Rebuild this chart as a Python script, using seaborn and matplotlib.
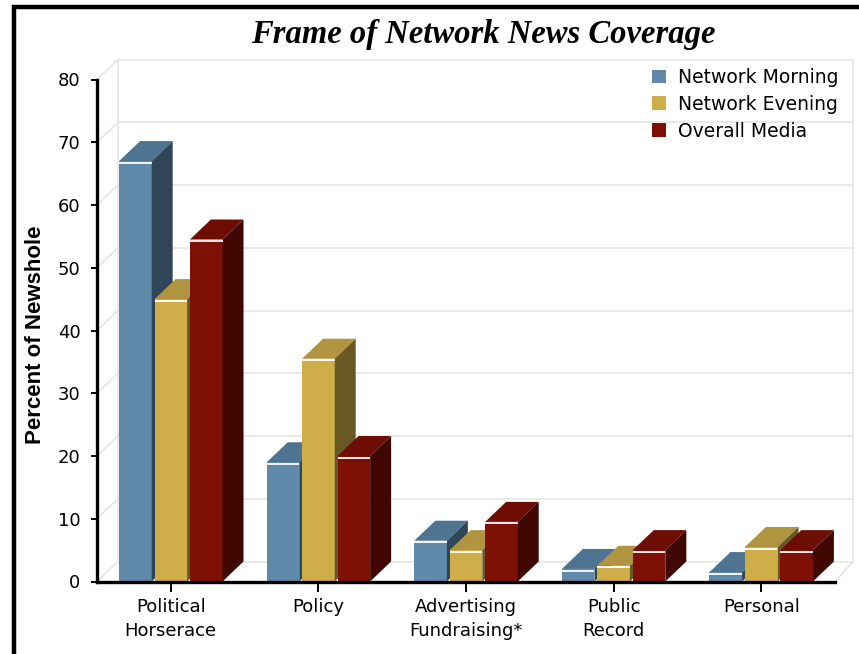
import matplotlib
matplotlib.use("Agg")
import matplotlib.pyplot as plt
import numpy as np
import pandas as pd
import seaborn as sns
from matplotlib.patches import Polygon
from matplotlib.lines import Line2D

# ---- data -------------------------------------------------------------
categories = ["Political\nHorserace", "Policy", "Advertising\nFundraising*",
              "Public\nRecord", "Personal"]
series = ["Network Morning", "Network Evening", "Overall Media"]
network_morning = [67, 19, 6.5, 2, 1.5]
network_evening = [45, 35.5, 5, 2.5, 5.5]
overall_media = [54.5, 20, 9.5, 5, 5]
y_ticks = [0, 10, 20, 30, 40, 50, 60, 70, 80]

# ---- styling ------------------------------------------------------------
front_colors = ["#6089AA", "#CFAE4A", "#7E1006"]
side_colors = ["#2F4657", "#6A5824", "#410803"]
top_colors = ["#4F7491", "#B0943F", "#6E0D04"]
wall_color = "#E4E4E4"

df = pd.DataFrame({
    "Frame": categories * len(series),
    "Outlet": np.repeat(series, len(categories)),
    "Percent": network_morning + network_evening + overall_media,
})

sns.set_theme(style="white")
plt.rcParams["font.family"] = ["DejaVu Sans"]
plt.rcParams["text.color"] = "black"

W, H, DPI = 859, 654, 100
fig = plt.figure(figsize=(W / DPI, H / DPI), dpi=DPI)
fig.patch.set_facecolor("white")

# axes box in pixels (left, right, bottom, top)
AX_L, AX_R, AX_B, AX_T = 97, 835, 581.5, 79.5
ax = fig.add_axes([AX_L / W, 1 - AX_B / H, (AX_R - AX_L) / W, (AX_B - AX_T) / H])
ax.set_facecolor("none")

sns.barplot(data=df, x="Frame", y="Percent", hue="Outlet", order=categories,
            hue_order=series, palette=front_colors, width=0.72, gap=0.08,
            saturation=1, linewidth=0, errorbar=None, ax=ax)
ax.set_xlim(-0.5, len(categories) - 0.5)
ax.set_ylim(y_ticks[0], y_ticks[-1])
ax.set_yticks(y_ticks)

# depth of the pseudo-3D extrusion, converted from pixels to data units
(x0, y0), (x1, y1) = ax.transData.transform([(0, 0), (1, 1)])
DEPTH_X_PX, DEPTH_Y_PX = 21, 20
ddx = DEPTH_X_PX / (x1 - x0)
ddy = DEPTH_Y_PX / (y1 - y0)

# back wall, left wall and floor outlines
xl, xr = ax.get_xlim()
wall_dx = 18 / (x1 - x0)
wall = dict(color=wall_color, lw=1.1, clip_on=False, zorder=0.5)
for t in y_ticks:
    ax.plot([xl + ddx, xr + wall_dx], [t + ddy, t + ddy], **wall)
    ax.plot([xl, xl + ddx], [t, t + ddy], **wall)
ax.plot([xl + ddx] * 2, [y_ticks[0] + ddy, y_ticks[-1] + ddy], **wall)
ax.plot([xr + wall_dx] * 2, [y_ticks[0] + ddy, y_ticks[-1] + ddy], **wall)
ax.plot([xr, xr + wall_dx], [0, ddy], **wall)

# extrude each bar: top and right side, painted left to right
bars = sorted(ax.patches, key=lambda p: p.get_x())
px_y = 1.0 / (y1 - y0)
for k, bar in enumerate(bars):
    h = k % len(series)
    x, w, v = bar.get_x(), bar.get_width(), bar.get_height()
    z = 2 + k * 0.01
    bar.set_zorder(z)
    ax.add_patch(Polygon([(x, v), (x + w, v), (x + w + ddx, v + ddy), (x + ddx, v + ddy)],
                         closed=True, fc=top_colors[h], ec="none", zorder=z, clip_on=False))
    ax.add_patch(Polygon([(x + w, 0), (x + w + ddx, ddy), (x + w + ddx, v + ddy), (x + w, v)],
                         closed=True, fc=side_colors[h], ec="none", zorder=z, clip_on=False))
    ax.plot([x, x + w], [v - 1.6 * px_y, v - 1.6 * px_y], color="white", lw=1.3,
            solid_capstyle="butt", zorder=z + 0.001, clip_on=False)

# axes lines and ticks
sns.despine(ax=ax, top=True, right=True)
for s in ("left", "bottom"):
    ax.spines[s].set_color("black")
    ax.spines[s].set_linewidth(2.4)
ax.tick_params(axis="y", left=True, direction="out", length=4, width=1.4, pad=8,
               labelsize=13, labelcolor="black", color="black")
ax.tick_params(axis="x", bottom=True, direction="out", length=7, width=1.4, pad=5,
               labelsize=13, labelcolor="black", color="black")
for lbl in ax.get_xticklabels():
    lbl.set_linespacing(1.4)
ax.set_xlabel("")
ax.set_ylabel("")

fig.text(36 / W, 1 - 335 / H, "Percent of Newshole", rotation=90, ha="center",
         va="center", fontsize=16, fontweight="bold", family="Liberation Sans",
         color="black")
fig.text(483 / W, 1 - 35 / H, "Frame of Network News Coverage", ha="center",
         va="center", fontsize=23.5, fontweight="bold", style="italic",
         family="Liberation Serif", color="black")

sns.move_legend(ax, "upper left", bbox_to_anchor=(652 / W, 1 - 68 / H),
                bbox_transform=fig.transFigure, frameon=False, title=None,
                fontsize=13.5, handlelength=0.75, handleheight=0.75,
                handletextpad=0.65, labelspacing=0.42, borderpad=0,
                borderaxespad=0, labelcolor="black")

# outer frame
fig.add_artist(Line2D([14 / W, 14 / W, 1.0], [0.0, 1 - 7 / H, 1 - 7 / H],
                      color="black", lw=3.2, solid_joinstyle="miter",
                      transform=fig.transFigure))

fig.savefig("out.png", dpi=DPI)
